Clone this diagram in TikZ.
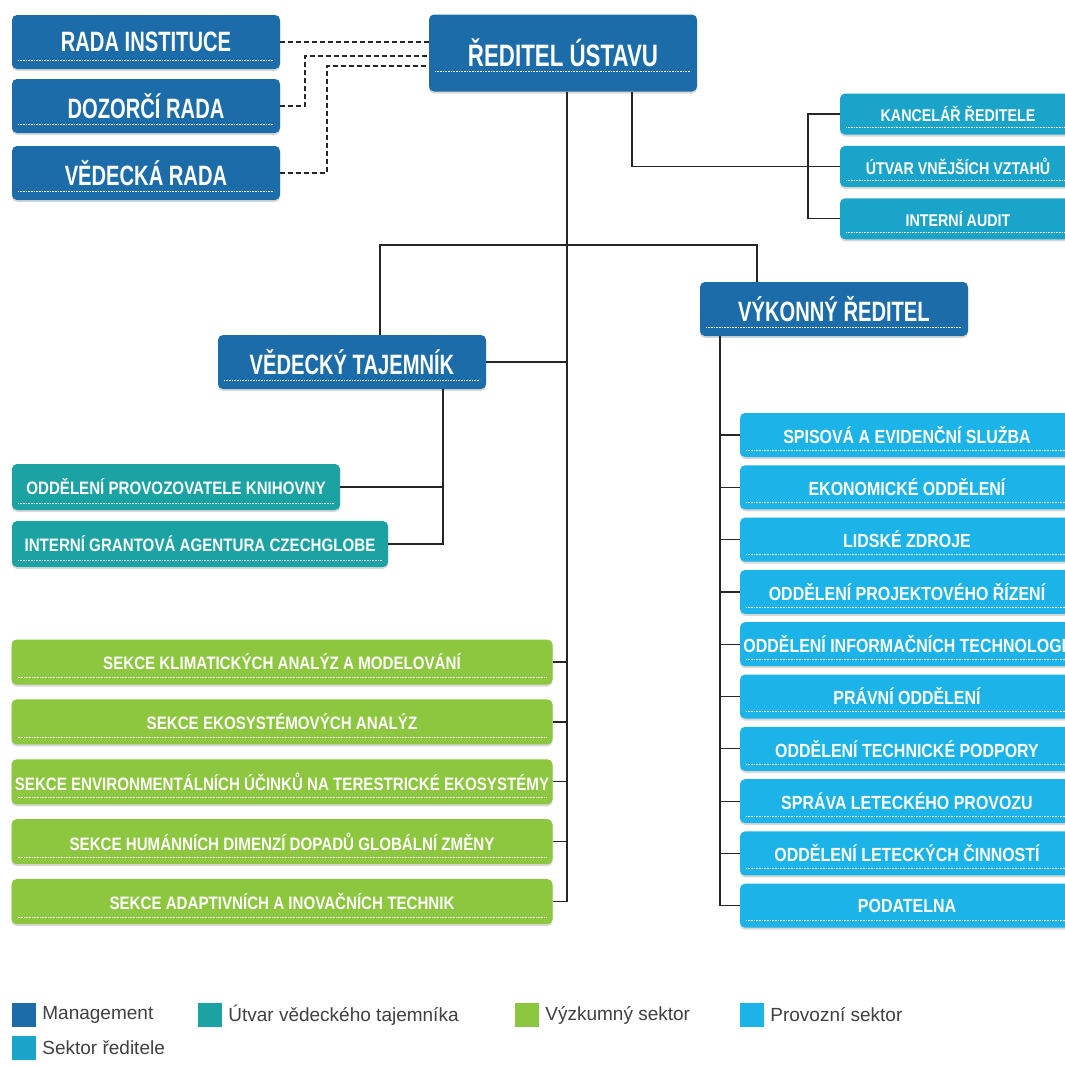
\documentclass[tikz,border=0pt]{standalone}
\usepackage{fontspec}
\setmainfont{Liberation Sans}
\newfontfamily\bigunit[FakeStretch=0.72]{Liberation Sans}
\newfontfamily\smallunit[FakeStretch=0.84]{Liberation Sans}
\usetikzlibrary{positioning,shadows}
\definecolor{mgmt}{HTML}{1B6CA8}
\definecolor{sekret}{HTML}{1BA2A2}
\definecolor{vyzkum}{HTML}{8DC63F}
\definecolor{provoz}{HTML}{1CB4E8}
\definecolor{sektor}{HTML}{1AA4CA}
\tikzset{unit/.style={rounded corners=5pt,text=white,inner sep=0pt,
    drop shadow={opacity=0.3,shadow xshift=0pt,shadow yshift=-2pt},
    path picture={\draw[white,densely dotted,line width=0.6pt]
      ([shift={(6pt,#1)}]path picture bounding box.south west) --
      ([shift={(-6pt,#1)}]path picture bounding box.south east);}},
  unit/.default=7pt}
\tikzstyle{boss}=[unit=20pt,fill=mgmt,minimum width=268pt,minimum height=77pt,font=\bigunit\bfseries\fontsize{31}{36}\selectfont]
\tikzstyle{board}=[unit=9pt,fill=mgmt,minimum width=268pt,minimum height=54pt,font=\bigunit\bfseries\fontsize{28}{32}\selectfont]
\tikzstyle{office}=[unit,fill=sektor,minimum width=236pt,minimum height=41pt,font=\smallunit\bfseries\fontsize{17}{20}\selectfont]
\tikzstyle{secret}=[unit,fill=sekret,minimum height=46pt,font=\smallunit\bfseries\fontsize{18}{21}\selectfont]
\tikzstyle{section}=[unit,fill=vyzkum,minimum width=541pt,minimum height=45pt,font=\smallunit\bfseries\fontsize{18}{21}\selectfont]
\tikzstyle{service}=[unit,fill=provoz,minimum width=334pt,minimum height=44pt,font=\smallunit\bfseries\fontsize{19}{22}\selectfont]
\tikzstyle{key}=[minimum size=24pt,inner sep=0pt]
\tikzstyle{keytext}=[inner sep=0pt,font=\fontsize{19}{22}\selectfont,text=black!75]
\tikzstyle{link}=[line width=1.2pt,black!85]
\tikzstyle{dlink}=[link,dash pattern=on 5pt off 3pt]

\begin{document}
\begin{tikzpicture}[x=1pt,y=-1pt]
  \clip (0,0) rectangle (1065,1066);
  \fill[white] (0,0) rectangle (1065,1066);

  % management
  \node[boss]  (reditel) at (563,53)  {ŘEDITEL ÚSTAVU};
  \node[board] (rada)    at (146,42)  {RADA INSTITUCE};
  \node[board] (dozor)   at (146,106) {DOZORČÍ RADA};
  \node[board] (vedrada) at (146,173) {VĚDECKÁ RADA};
  \node[board] (vedtaj)  at (352,362) {VĚDECKÝ TAJEMNÍK};
  \node[board] (vykon)   at (834,309) {VÝKONNÝ ŘEDITEL};

  % sektor reditele
  \node[office] (kanc)   at (958,114) {KANCELÁŘ ŘEDITELE};
  \node[office] (utvar)  [below=11pt of kanc]  {ÚTVAR VNĚJŠÍCH VZTAHŮ};
  \node[office] (audit)  [below=11pt of utvar] {INTERNÍ AUDIT};

  % utvar vedeckeho tajemnika
  \node[secret,minimum width=328pt] (knih)  at (176,487) {ODDĚLENÍ PROVOZOVATELE KNIHOVNY};
  \node[secret,minimum width=376pt] (grant) at (200,544) {INTERNÍ GRANTOVÁ AGENTURA CZECHGLOBE};

  % vyzkumny sektor
  \node[section] (g1) at (282,662) {SEKCE KLIMATICKÝCH ANALÝZ A MODELOVÁNÍ};
  \node[section] (g2) [below=14.5pt of g1] {SEKCE EKOSYSTÉMOVÝCH ANALÝZ};
  \node[section] (g3) [below=14.5pt of g2] {SEKCE ENVIRONMENTÁLNÍCH ÚČINKŮ NA TERESTRICKÉ EKOSYSTÉMY};
  \node[section] (g4) [below=14.5pt of g3] {SEKCE HUMÁNNÍCH DIMENZÍ DOPADŮ GLOBÁLNÍ ZMĚNY};
  \node[section] (g5) [below=14.5pt of g4] {SEKCE ADAPTIVNÍCH A INOVAČNÍCH TECHNIK};

  % provozni sektor
  \node[service] (b1)  at (907,435) {SPISOVÁ A EVIDENČNÍ SLUŽBA};
  \node[service] (b2)  [below=7.9pt of b1] {EKONOMICKÉ ODDĚLENÍ};
  \node[service] (b3)  [below=7.9pt of b2] {LIDSKÉ ZDROJE};
  \node[service] (b4)  [below=7.9pt of b3] {ODDĚLENÍ PROJEKTOVÉHO ŘÍZENÍ};
  \node[service] (b5)  [below=7.9pt of b4] {ODDĚLENÍ INFORMAČNÍCH TECHNOLOGIÍ};
  \node[service] (b6)  [below=7.9pt of b5] {PRÁVNÍ ODDĚLENÍ};
  \node[service] (b7)  [below=7.9pt of b6] {ODDĚLENÍ TECHNICKÉ PODPORY};
  \node[service] (b8)  [below=7.9pt of b7] {SPRÁVA LETECKÉHO PROVOZU};
  \node[service] (b9)  [below=7.9pt of b8] {ODDĚLENÍ LETECKÝCH ČINNOSTÍ};
  \node[service] (b10) [below=7.9pt of b9] {PODATELNA};

  % connectors
  \coordinate (cx) at (567,0);
  \coordinate (rd) at (632,0);
  \coordinate (sr) at (808,0);
  \coordinate (vt) at (443,0);
  \coordinate (vk) at (720,0);
  \coordinate (forkL) at (380,245);
  \coordinate (forkR) at (757,245);
  \coordinate (d1) at (305,56);
  \coordinate (d2) at (327,66);

  \draw[dlink] (rada.east) -- (rada.east -| reditel.west);
  \draw[dlink] (dozor.east) -| (d1) -- (d1 -| reditel.west);
  \draw[dlink] (vedrada.east) -| (d2) -- (d2 -| reditel.west);

  \draw[link] (reditel.south -| cx) -- (g5.east -| cx);
  \draw[link] (reditel.south -| rd) |- (utvar.west);
  \draw[link] (kanc.west) -| (sr |- audit.west) -- (audit.west);
  \draw[link] (vedtaj.north -| forkL) -- (forkL) -- (forkR) -- (vykon.north -| forkR);
  \draw[link] (vedtaj.east) -- (vedtaj.east -| cx);
  \draw[link] (vedtaj.south -| vt) |- (grant.east);
  \draw[link] (knih.east) -- (knih.east -| vt);
  \foreach \i in {1,...,5}
    \draw[link] (g\i.east) -- (g\i.east -| cx);
  \draw[link] (vykon.south -| vk) |- (b10.west);
  \foreach \i in {1,...,9}
    \draw[link] (b\i.west) -- (b\i.west -| vk);

  % legend
  \node[key,fill=mgmt]   (k1) at (24,1015) {};
  \node[keytext] [right=6pt of k1] {Management};
  \node[key,fill=sekret] (k2) at (210,1015) {};
  \node[keytext] [right=6pt of k2] {Útvar vědeckého tajemníka};
  \node[key,fill=vyzkum] (k3) at (527,1015) {};
  \node[keytext] [right=6pt of k3] {Výzkumný sektor};
  \node[key,fill=provoz] (k4) at (752,1015) {};
  \node[keytext] [right=6pt of k4] {Provozní sektor};
  \node[key,fill=sektor] (k5) at (24,1048) {};
  \node[keytext] [right=6pt of k5] {Sektor ředitele};
\end{tikzpicture}
\end{document}
